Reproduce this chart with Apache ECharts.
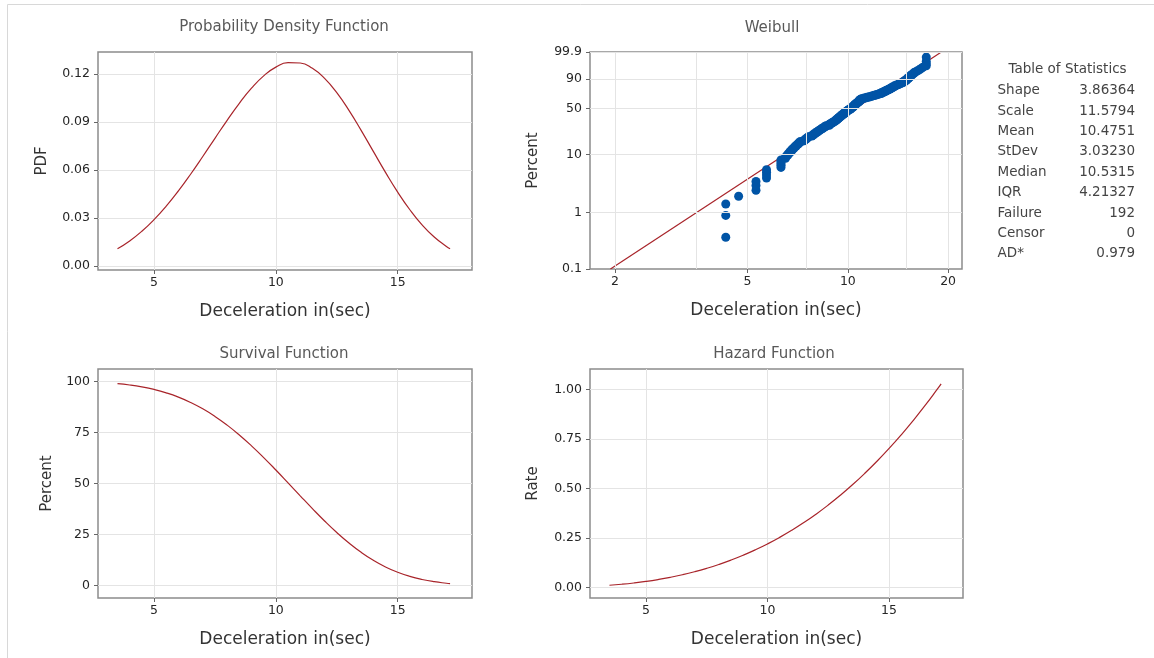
<!DOCTYPE html>
<html><head><meta charset="utf-8">
<script src="https://cdn.jsdelivr.net/npm/echarts@6/dist/echarts.min.js"></script>
<style>html,body{margin:0;padding:0;background:#fff}#c{width:1154px;height:658px}</style>
</head><body><div id="c"></div>
<script>
// ---- data ----
const curveX = [3.5, 4, 4.5, 5, 5.5, 6, 6.5, 7, 7.5, 8, 8.5, 9, 9.5, 10, 10.5, 11, 11.5, 12, 12.5, 13, 13.5, 14, 14.5, 15, 15.5, 16, 16.5, 17, 17.15];
const pdfValues = [0.01074, 0.01564, 0.02171, 0.02897, 0.03741, 0.04692, 0.05735, 0.06843, 0.07981, 0.09107, 0.10169, 0.11114, 0.11885, 0.12431, 0.12707, 0.12686, 0.12355, 0.11727, 0.10835, 0.09730, 0.08480, 0.07163, 0.05854, 0.04621, 0.03516, 0.02574, 0.01810, 0.01220, 0.01074];
const survivalPct = [99.02, 98.37, 97.44, 96.18, 94.52, 92.42, 89.81, 86.67, 82.97, 78.70, 73.87, 68.54, 62.79, 56.70, 50.40, 44.04, 37.77, 31.73, 26.08, 20.93, 16.38, 12.47, 9.21, 6.60, 4.57, 3.06, 1.97, 1.22, 1.05];
const hazardRate = [0.01085, 0.01590, 0.02228, 0.03012, 0.03958, 0.05077, 0.06385, 0.07895, 0.09620, 0.11573, 0.13766, 0.16215, 0.18930, 0.21925, 0.25212, 0.28805, 0.32715, 0.36956, 0.41539, 0.46476, 0.51779, 0.57463, 0.63538, 0.70016, 0.76910, 0.84230, 0.91988, 1.00198, 1.02750];

// observed values (distinct) and how many observations share each value (n = 192)
const obsValues = [4.3, 4.7, 5.3, 5.7, 6.3, 6.5, 6.6, 6.7, 6.8, 6.9, 7.0, 7.1, 7.2, 7.4, 7.5, 7.6, 7.8, 7.9, 8.0, 8.1, 8.2, 8.3, 8.4, 8.5, 8.6, 8.8, 8.9, 9.0, 9.1, 9.2, 9.3, 9.4, 9.5, 9.6, 9.7, 9.8, 9.9, 10.0, 10.1, 10.2, 10.3, 10.4, 10.5, 10.6, 10.7, 10.8, 10.9, 11.0, 11.2, 11.4, 11.6, 11.8, 12.0, 12.2, 12.4, 12.6, 12.8, 13.0, 13.2, 13.4, 13.6, 13.8, 14.0, 14.2, 14.4, 14.6, 14.8, 15.0, 15.2, 15.4, 15.6, 15.8, 16.0, 16.2, 16.4, 16.6, 16.8, 17.2];
const obsCounts = [3, 1, 3, 4, 5, 2, 2, 2, 2, 2, 2, 2, 2, 2, 2, 2, 2, 2, 2, 2, 2, 2, 2, 2, 2, 3, 2, 2, 2, 3, 3, 3, 3, 3, 3, 3, 3, 3, 2, 3, 3, 4, 4, 3, 3, 4, 4, 2, 2, 2, 2, 2, 2, 2, 2, 3, 3, 3, 3, 3, 3, 3, 2, 2, 2, 2, 3, 3, 3, 3, 2, 2, 1, 1, 1, 1, 1, 4];

const fitX = [1.9376, 19.096];
const fitPct = [0.1, 99.9];

const pctTicks = [0.1, 1, 10, 50, 90, 99.9];
const weibullXTicks = [2, 5, 10, 20];
const weibullXGrid = [2, 3.5, 5, 7.5, 10, 15, 20];
const linXTicks = [5, 10, 15];
const pdfTicks = [0, 0.03, 0.06, 0.09, 0.12];
const survTicks = [0, 25, 50, 75, 100];
const hazTicks = [0, 0.25, 0.5, 0.75, 1];

const statLabels = ['Shape', 'Scale', 'Mean', 'StDev', 'Median', 'IQR', 'Failure', 'Censor', 'AD*'];
const statValues = ['3.86364', '11.5794', '10.4751', '3.03230', '10.5315', '4.21327', '192', '0', '0.979'];

// ---- build ----
const FONT = 'DejaVu Sans';
const RED = '#a8242a';
const BLUE = '#0054a6';
const wt = p => Math.log(-Math.log(1 - p / 100));

const obs = [];
obsValues.forEach((v, i) => { for (let k = 0; k < obsCounts[i]; k++) obs.push(v); });
const n = obs.length;
const scatterData = obs.map((v, i) => [v, wt((i + 1 - 0.3) / (n + 0.4) * 100)]);

const zip = (xs, ys) => xs.map((x, i) => [x, ys[i]]);

const labelStyle = { color: '#262626', fontSize: 12.5, fontFamily: FONT };
const xNameStyle = { color: '#333333', fontSize: 17, fontWeight: 'normal', fontFamily: FONT };
const yNameStyle = { color: '#333333', fontSize: 15, fontWeight: 'normal', fontFamily: FONT };

function linX(idx) {
  return {
    type: 'value', gridIndex: idx, min: 2.7, max: 18.05, minInterval: 5, maxInterval: 5,
    name: 'Deceleration in(sec)', nameLocation: 'middle', nameGap: 33, nameTextStyle: xNameStyle,
    axisLine: { show: false, onZero: false },
    axisTick: { show: true, length: 4, customValues: linXTicks, lineStyle: { color: '#666' } },
    axisLabel: Object.assign({ margin: 6, customValues: linXTicks, formatter: v => String(v) }, labelStyle),
    splitLine: { show: true, lineStyle: { color: '#e4e4e4', width: 1 } }
  };
}
function linY(idx, min, max, step, ticks, name, gap, fmt) {
  return {
    type: 'value', gridIndex: idx, min: min, max: max, minInterval: step, maxInterval: step,
    name: name, nameLocation: 'middle', nameGap: gap, nameTextStyle: yNameStyle,
    axisLine: { show: false, onZero: false },
    axisTick: { show: true, length: 4, customValues: ticks, lineStyle: { color: '#666' } },
    axisLabel: Object.assign({ margin: 8, customValues: ticks, formatter: fmt }, labelStyle),
    splitLine: { show: true, lineStyle: { color: '#e4e4e4', width: 1 } }
  };
}

const grids = [
  { left: 98, top: 52, width: 374, height: 218 },
  { left: 590, top: 52, width: 372, height: 217 },
  { left: 98, top: 369, width: 374, height: 229 },
  { left: 590, top: 369, width: 373, height: 229 }
].map(g => Object.assign({ show: true, borderColor: '#8c8c8c', borderWidth: 1.5, backgroundColor: 'transparent' }, g));

const titleStyle = { fontSize: 15, fontWeight: 'normal', color: '#595959', fontFamily: FONT };
const titles = [
  { text: 'Probability Density Function', left: 284, top: 19.5 },
  { text: 'Weibull', left: 772, top: 21 },
  { text: 'Survival Function', left: 284, top: 347 },
  { text: 'Hazard Function', left: 774, top: 347 }
].map(t => Object.assign({ textAlign: 'center', padding: 0, textStyle: titleStyle }, t));

const weibullY = {
  type: 'value', gridIndex: 1, min: wt(0.1), max: wt(99.9),
  name: 'Percent', nameLocation: 'middle', nameGap: 49, nameTextStyle: yNameStyle,
  axisLine: { show: false, onZero: false },
  axisTick: { show: true, length: 4, customValues: pctTicks.map(wt), lineStyle: { color: '#666' } },
  axisLabel: Object.assign({
    margin: 8, customValues: pctTicks.map(wt),
    formatter: v => { let best = pctTicks[0]; pctTicks.forEach(p => { if (Math.abs(wt(p) - v) < Math.abs(wt(best) - v)) best = p; }); return String(best); }
  }, labelStyle),
  splitLine: { show: false }
};
const weibullX = {
  type: 'log', logBase: 10, gridIndex: 1, min: 1.682, max: 22.02,
  name: 'Deceleration in(sec)', nameLocation: 'middle', nameGap: 33, nameTextStyle: xNameStyle,
  axisLine: { show: false, onZero: false },
  axisTick: { show: true, length: 4, customValues: weibullXTicks, lineStyle: { color: '#666' } },
  axisLabel: Object.assign({ margin: 6, customValues: weibullXTicks, formatter: v => String(Math.round(v * 10) / 10) }, labelStyle),
  splitLine: { show: false }
};

const gridLineStyle = { color: '#e4e4e4', width: 1, type: 'solid' };

const statText = { fill: '#444', fontSize: 13.5, fontFamily: FONT, verticalAlign: 'middle' };
const statGraphics = [{
  type: 'text', x: 1067.5, y: 69.5, style: Object.assign({ text: 'Table of Statistics', align: 'center' }, statText)
}];
statLabels.forEach((s, i) => {
  statGraphics.push({ type: 'text', x: 997.5, y: 90.7 + i * 20.4, style: Object.assign({ text: s, align: 'left' }, statText) });
  statGraphics.push({ type: 'text', x: 1135, y: 90.7 + i * 20.4, style: Object.assign({ text: statValues[i], align: 'right' }, statText) });
});
const frame = [
  { type: 'line', shape: { x1: 7.5, y1: 4.5, x2: 1154, y2: 4.5 }, style: { stroke: '#d8d8d8', lineWidth: 1 } },
  { type: 'line', shape: { x1: 7.5, y1: 4.5, x2: 7.5, y2: 658 }, style: { stroke: '#d8d8d8', lineWidth: 1 } }
];

const chart = echarts.init(document.getElementById('c'), null, { renderer: 'canvas' });
chart.setOption({
  backgroundColor: '#ffffff',
  animation: false,
  textStyle: { fontFamily: FONT },
  title: titles,
  grid: grids,
  xAxis: [linX(0), weibullX, linX(2), linX(3)],
  yAxis: [
    linY(0, -0.0025, 0.13375, 0.03, pdfTicks, 'PDF', 48.5, v => v.toFixed(2)),
    weibullY,
    linY(2, -6.02, 106.2, 25, survTicks, 'Percent', 43.5, v => String(Math.round(v))),
    linY(3, -0.0534, 1.1023, 0.25, hazTicks, 'Rate', 49, v => v.toFixed(2))
  ],
  graphic: frame.concat(statGraphics),
  series: [
    { type: 'line', xAxisIndex: 0, yAxisIndex: 0, data: zip(curveX, pdfValues), smooth: true, showSymbol: false, lineStyle: { color: RED, width: 1.2 }, silent: true },
    {
      type: 'line', xAxisIndex: 1, yAxisIndex: 1, data: [], silent: true, z: 1,
      markLine: {
        silent: true, symbol: 'none', label: { show: false }, lineStyle: gridLineStyle, animation: false,
        data: pctTicks.map(p => ({ yAxis: wt(p) })).concat(weibullXGrid.map(x => ({ xAxis: x })))
      }
    },
    { type: 'line', xAxisIndex: 1, yAxisIndex: 1, data: zip(fitX, fitPct.map(wt)), showSymbol: false, lineStyle: { color: RED, width: 1.2 }, silent: true, z: 3 },
    { type: 'scatter', xAxisIndex: 1, yAxisIndex: 1, data: scatterData, symbolSize: 9, itemStyle: { color: BLUE, opacity: 1 }, silent: true, z: 4 },
    { type: 'line', xAxisIndex: 2, yAxisIndex: 2, data: zip(curveX, survivalPct), smooth: true, showSymbol: false, lineStyle: { color: RED, width: 1.2 }, silent: true },
    { type: 'line', xAxisIndex: 3, yAxisIndex: 3, data: zip(curveX, hazardRate), smooth: true, showSymbol: false, lineStyle: { color: RED, width: 1.2 }, silent: true }
  ]
});
</script>
</body></html>
